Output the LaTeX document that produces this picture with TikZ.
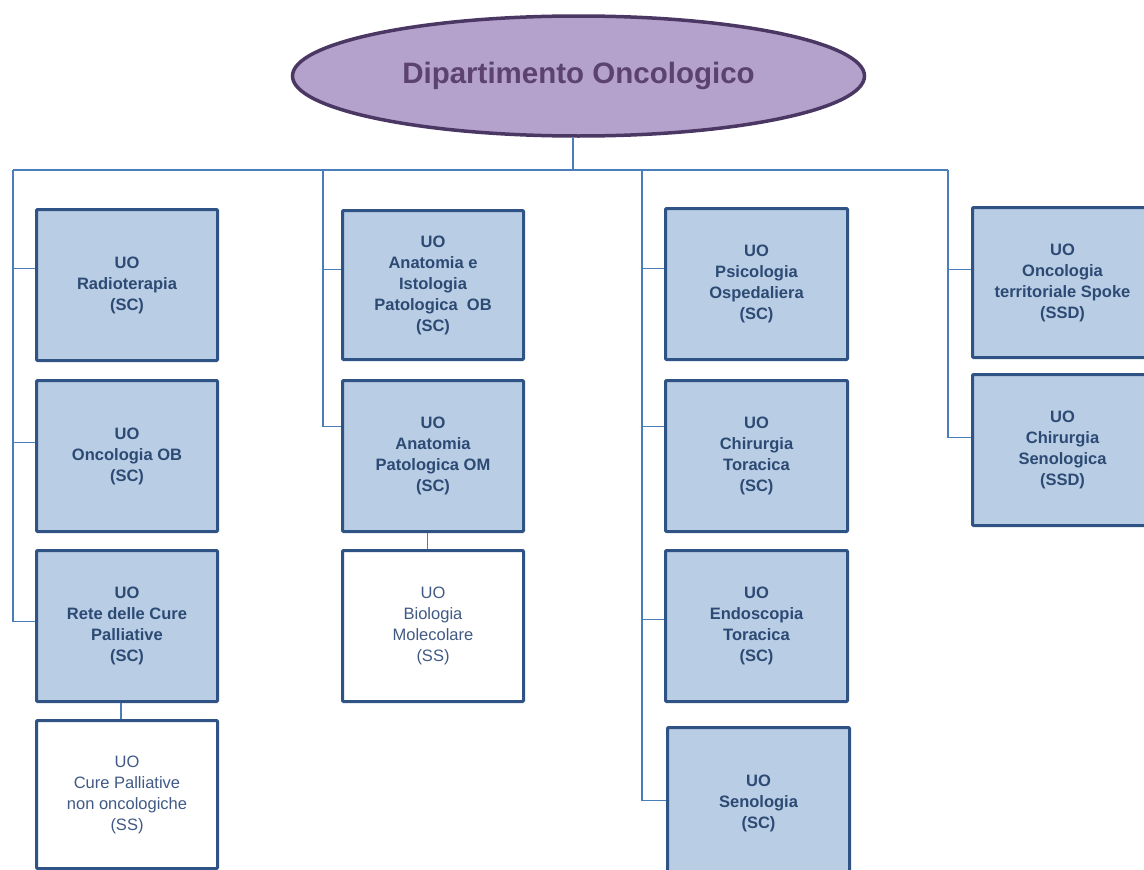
\documentclass[tikz,border=0pt]{standalone}
\usepackage{fontspec}
\setmainfont{Liberation Sans}
\usetikzlibrary{shapes.geometric}
\definecolor{boxfill}{HTML}{B9CDE5}
\definecolor{boxline}{HTML}{2F5385}
\definecolor{boxtext}{HTML}{2C4A73}
\definecolor{subtext}{HTML}{405A85}
\definecolor{ellfill}{HTML}{B4A2CC}
\definecolor{ellline}{HTML}{4B3763}
\definecolor{elltext}{HTML}{5B426F}
\definecolor{connc}{HTML}{4A7EBB}
\begin{document}
\begin{tikzpicture}[x=1pt,y=-1pt,
  unit/.style={draw=boxline, line width=3pt, fill=boxfill, rounded corners=1pt,
    inner sep=0pt, text=boxtext, align=center, anchor=north west,
    font=\bfseries\fontsize{16.5}{21}\selectfont},
  subunit/.style={unit, fill=white, text=subtext, font=\fontsize{16.5}{21}\selectfont},
  conn/.style={draw=connc, line width=1.5pt}]
\useasboundingbox (0,0) rectangle (1144,870);
\clip (0,0) rectangle (1144,870);

\node[ellipse, draw=ellline, line width=3.5pt, fill=ellfill, minimum width=572pt,
  minimum height=120pt, inner sep=0pt, text=elltext,
  font=\bfseries\fontsize{29.5}{35}\selectfont] (root) at (578.5,76) {Dipartimento Oncologico};

% column 1
\node[unit, minimum width=181pt, minimum height=151pt] (b11) at (35,208) {UO\\Radioterapia\\(SC)};
\node[unit, minimum width=181pt, minimum height=151pt] (b12) at (35,379) {UO\\Oncologia OB\\(SC)};
\node[unit, minimum width=181pt, minimum height=151pt] (b13) at (35,549) {UO\\Rete delle Cure\\Palliative\\(SC)};
\node[subunit, minimum width=181pt, minimum height=148pt] (b14) at (35,719) {UO\\Cure Palliative\\non oncologiche\\(SS)};
% column 2
\node[unit, minimum width=181pt, minimum height=149pt] (b21) at (341,209) {UO\\Anatomia e\\Istologia\\Patologica\ \ OB\\(SC)};
\node[unit, minimum width=181pt, minimum height=151pt] (b22) at (341,379) {UO\\Anatomia\\Patologica OM\\(SC)};
\node[subunit, minimum width=181pt, minimum height=151pt] (b23) at (341,549) {UO\\Biologia\\Molecolare\\(SS)};
% column 3
\node[unit, minimum width=182pt, minimum height=151pt] (b31) at (664,207) {UO\\Psicologia\\Ospedaliera\\(SC)};
\node[unit, minimum width=182pt, minimum height=151pt] (b32) at (664,379) {UO\\Chirurgia\\Toracica\\(SC)};
\node[unit, minimum width=182pt, minimum height=151pt] (b33) at (664,549) {UO\\Endoscopia\\Toracica\\(SC)};
\node[unit, minimum width=182pt, minimum height=152pt] (b34) at (666,726) {UO\\Senologia\\(SC)};
% column 4
\node[unit, minimum width=180pt, minimum height=150pt] (b41) at (971,206) {UO\\Oncologia\\territoriale Spoke\\(SSD)};
\node[unit, minimum width=180pt, minimum height=151pt] (b42) at (971,373) {UO\\Chirurgia\\Senologica\\(SSD)};

% trunk coordinates
\coordinate (t1) at (13,170);
\coordinate (t2) at (323,170);
\coordinate (t3) at (642,170);
\coordinate (t4) at (948,170);
\coordinate (drop) at ([xshift=-5.5pt]root.south);

% tick points
\coordinate (k11) at ([yshift=16.5pt]b11.west);
\coordinate (k12) at ([yshift=13.5pt]b12.west);
\coordinate (k13) at ([yshift=4.5pt]b13.west);
\coordinate (k21) at ([yshift=15.5pt]b21.west);
\coordinate (k22) at ([yshift=29.5pt]b22.west);
\coordinate (k31) at ([yshift=15.5pt]b31.west);
\coordinate (k32) at ([yshift=29.5pt]b32.west);
\coordinate (k33) at ([yshift=6.5pt]b33.west);
\coordinate (k34) at ([yshift=3pt]b34.west);
\coordinate (k41) at ([yshift=13pt]b41.west);
\coordinate (k42) at ([yshift=12.5pt]b42.west);

\draw[conn] (drop) -- (drop |- t1);
\draw[conn] (t1) -- (t4);
\draw[conn] (t1) |- (k13);
\draw[conn] (k11) -- (k11 -| t1);
\draw[conn] (k12) -- (k12 -| t1);
\draw[conn] (t2) |- (k22);
\draw[conn] (k21) -- (k21 -| t2);
\draw[conn] (t3) |- (k34);
\draw[conn] (k31) -- (k31 -| t3);
\draw[conn] (k32) -- (k32 -| t3);
\draw[conn] (k33) -- (k33 -| t3);
\draw[conn] (t4) |- (k42);
\draw[conn] (k41) -- (k41 -| t4);

% sub connectors
\coordinate (s1) at ([xshift=-6pt]b13.south);
\coordinate (s2) at ([xshift=-5.5pt]b22.south);
\draw[conn] (s1) -- (s1 |- b14.north);
\draw[conn] (s2) -- (s2 |- b23.north);
\end{tikzpicture}
\end{document}
